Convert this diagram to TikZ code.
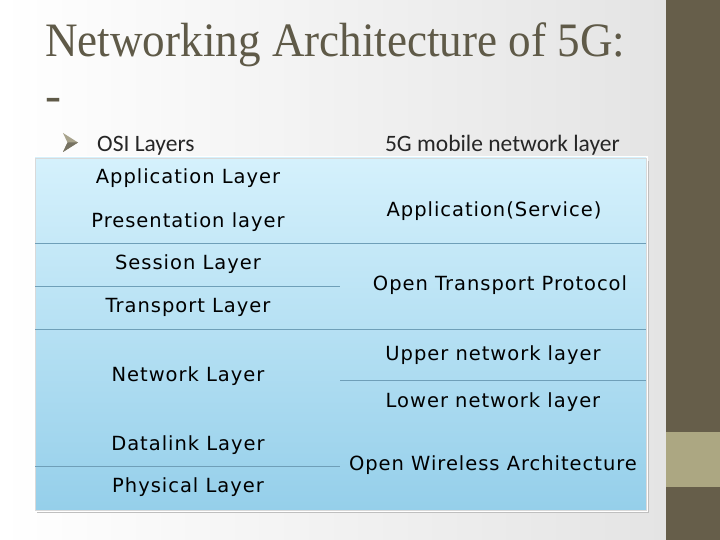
\documentclass[tikz,border=0pt]{standalone}
\usepackage{fontspec}
\setmainfont{Liberation Serif}
\newfontfamily\calfont{Carlito}
\newfontfamily\tabfont[LetterSpace=5]{DejaVu Sans}
\definecolor{titlecol}{HTML}{5F5A48}
\definecolor{barcol}{HTML}{665E4A}
\definecolor{bandcol}{HTML}{ACA782}
\definecolor{tabtop}{HTML}{D5F1FC}
\definecolor{tabbot}{HTML}{95CFEA}
\definecolor{rulecol}{HTML}{6F9FB8}
\definecolor{arrowcol}{HTML}{A8A38C}
\definecolor{bggray}{HTML}{E4E4E4}
\begin{document}
\begin{tikzpicture}[x=1pt,y=-1pt,
  titletext/.style={anchor=base west,inner sep=0pt,text=titlecol,font=\fontsize{48}{52}\selectfont},
  headtext/.style={inner sep=0pt,text=black!85,font=\calfont\fontsize{23.5}{26}\selectfont},
  celltext/.style={anchor=base,inner sep=0pt,text=black,font=\tabfont\fontsize{19.5}{21}\selectfont},
  tabrule/.style={draw=rulecol,line width=0.8pt}]
\useasboundingbox (0,0) rectangle (720,540);
% background
\shade[left color=white,middle color=white,right color=bggray,shading angle=90] (0,0) rectangle (666,540);
\fill[barcol] (666,0) rectangle (720,540);
\fill[bandcol] (666,432) rectangle (720,487);
% title
\node[titletext] (title) at (45,57) {\scalebox{0.94}[1]{Networking Architecture of 5G:}};
\node[titletext] (dash) at (45,112) {-};
% bullet arrow
\fill[arrowcol] (63,133) -- (78,142.5) -- (63,152) -- (67.5,142.5) -- cycle;
\fill[arrowcol!70!black] (67.5,142.5) -- (78,142.5) -- (63,152) -- cycle;
\node[headtext,anchor=base west] (osi) at (97,152) {OSI Layers};
\node[headtext,anchor=base east] (fiveg) at (620,152) {5G mobile network layer};
% table
\fill[black!25] (37,161) rectangle (649,513);
\fill[white] (33,156) rectangle (648,512);
\shade[top color=tabtop,bottom color=tabbot] (35,158) rectangle (646,510);
\draw[black!15,line width=0.5pt] (35,158) rectangle (646,510);
\draw[tabrule] (35,243) -- (646,243);
\draw[tabrule] (35,329) -- (646,329);
\draw[tabrule] (35,286) -- (340,286);
\draw[tabrule] (35,466) -- (340,466);
\draw[tabrule] (340,380) -- (646,380);
% left column
\node[celltext] (app) at (188,184) {Application Layer};
\node[celltext] (pres) at (188,227) {Presentation layer};
\node[celltext] (sess) at (188,269) {Session Layer};
\node[celltext] (trans) at (188,312) {Transport Layer};
\node[celltext] (net) at (188,381) {Network Layer};
\node[celltext] (dl) at (188,450) {Datalink Layer};
\node[celltext] (phys) at (188,492) {Physical Layer};
% right column
\node[celltext] (serv) at (494,217) {Application(Service)};
\node[celltext] (otp) at (500,290) {Open Transport Protocol};
\node[celltext] (unl) at (493,360) {Upper network layer};
\node[celltext] (lnl) at (493,407) {Lower network layer};
\node[celltext] (owa) at (493,470) {Open Wireless Architecture};
\end{tikzpicture}
\end{document}
